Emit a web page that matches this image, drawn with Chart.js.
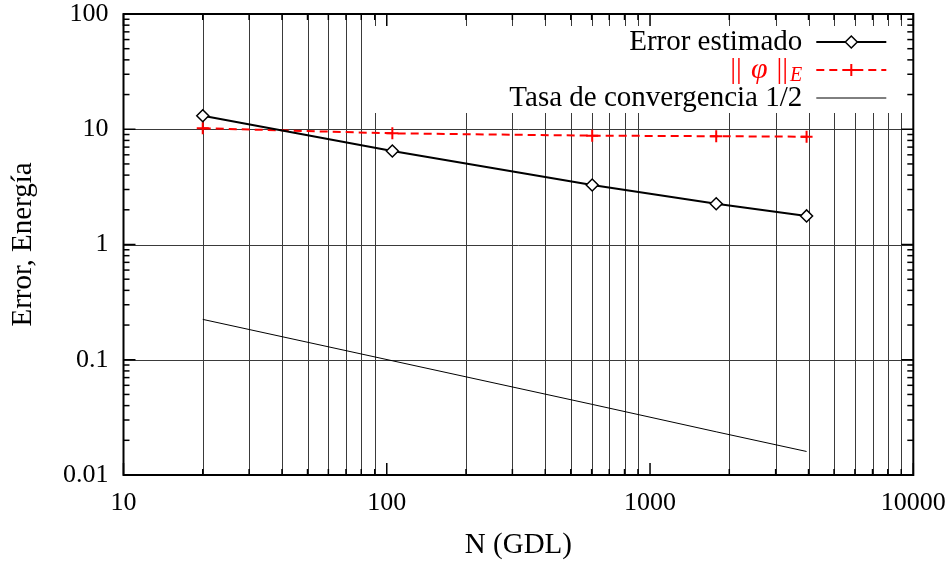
<!DOCTYPE html>
<html>
<head>
<meta charset="utf-8">
<script src="https://cdn.jsdelivr.net/npm/chart.js@4"></script>
<style>
  html, body { margin: 0; padding: 0; background: #fff; }
</style>
</head>
<body>
<canvas id="chart" width="948" height="563"></canvas>
<script>
// data
const nGdl = [20, 105, 603, 1784, 3932];
const errorEstimado = [13.1, 6.47, 3.28, 2.26, 1.77];
const normaEnergia = [10.2, 9.22, 8.8, 8.7, 8.62];
const tasaConvergencia = [0.224, 0.098, 0.041, 0.0237, 0.016];
const xTickLabels = ['10', '100', '1000', '10000'];
const yTickLabels = ['0.01', '0.1', '1', '10', '100'];
const seriesLabels = ['Error estimado', '|| φ ||', 'Tasa de convergencia 1/2'];
const energySub = 'E';

const SERIF = "'Liberation Serif', 'DejaVu Serif', serif";
const RED = '#ff0000';

const pts = ys => nGdl.map((n, i) => ({ x: n, y: ys[i] }));
const isPow10 = v => { const l = Math.log10(v); return Math.abs(l - Math.round(l)) < 1e-6; };
const isWhole = v => {
  const m = v / Math.pow(10, Math.floor(Math.log10(v) + 1e-9));
  return Math.abs(m - Math.round(m)) < 1e-6;
};
const labelFor = list => v => list.find(s => Math.abs(Number(s) / v - 1) < 1e-6) || '';

function seg(ctx, x1, y1, x2, y2) {
  ctx.beginPath(); ctx.moveTo(x1, y1); ctx.lineTo(x2, y2); ctx.stroke();
}

// keep the plot box where the layout padding puts it
function fixBox(s, size) {
  if (s.isHorizontal()) s.height = size; else s.width = size;
  s.paddingTop = s.paddingBottom = s.paddingLeft = s.paddingRight = 0;
}

// grid, inward ticks, frame and the gnuplot-style key
const frame = {
  id: 'frame',
  beforeDatasetsDraw(chart) {
    const { ctx, chartArea: a, scales: { x, y } } = chart;
    ctx.save();
    ctx.strokeStyle = '#3a3a3a';
    ctx.lineWidth = 1;
    x.ticks.forEach(t => {
      if (isPow10(t.value)) return;
      const px = Math.round(x.getPixelForValue(t.value)) + 0.5;
      seg(ctx, px, a.top, px, a.bottom);
    });
    y.ticks.forEach(t => {
      if (!isPow10(t.value)) return;
      const py = Math.round(y.getPixelForValue(t.value)) + 0.5;
      if (py < a.top + 2 || py > a.bottom - 2) return;
      seg(ctx, a.left, py, a.right, py);
    });
    // key background
    ctx.fillStyle = '#fff';
    ctx.fillRect(a.right - 548, a.top + 12, 540, 87);
    ctx.restore();
  },
  afterDatasetsDraw(chart) {
    const { ctx, chartArea: a, scales: { x, y } } = chart;
    ctx.save();
    ctx.strokeStyle = '#000';
    ctx.lineWidth = 1.5;
    x.ticks.forEach(t => {
      const px = x.getPixelForValue(t.value);
      const len = isPow10(t.value) ? 12 : 6;
      seg(ctx, px, a.bottom, px, a.bottom - len);
      seg(ctx, px, a.top, px, a.top + len);
    });
    y.ticks.forEach(t => {
      const py = y.getPixelForValue(t.value);
      const len = isPow10(t.value) ? 12 : 6;
      seg(ctx, a.left, py, a.left + len, py);
      seg(ctx, a.right, py, a.right - len, py);
    });
    ctx.lineWidth = 2;
    ctx.strokeRect(a.left, a.top, a.right - a.left, a.bottom - a.top);

    // key
    const textR = a.right - 111, s1 = a.right - 97, s2 = a.right - 27, sm = (s1 + s2) / 2;
    const rows = [a.top + 28, a.top + 56, a.top + 84];
    ctx.textBaseline = 'middle';
    ctx.font = '29px ' + SERIF;
    ctx.fillStyle = '#000';
    ctx.textAlign = 'right';
    ctx.fillText(seriesLabels[0], textR, rows[0]);
    ctx.fillText(seriesLabels[2], textR, rows[2]);

    // || φ ||_E  (text, font, baseline shift, gap after)
    ctx.textAlign = 'left';
    ctx.fillStyle = RED;
    const parts = seriesLabels[1].split(' ');
    const fUp = '29px ' + SERIF, fIt = 'italic 30px ' + SERIF, fSub = 'italic 20px ' + SERIF;
    const pieces = [
      [parts[0], fUp, 0, 9], [parts[1], fIt, 0, 9], [parts[2], fUp, 0, 2], [energySub, fSub, 6, 0]
    ];
    let total = 0;
    pieces.forEach(p => { ctx.font = p[1]; total += ctx.measureText(p[0]).width + p[3]; });
    let cx = textR - total;
    pieces.forEach(p => {
      ctx.font = p[1];
      ctx.fillText(p[0], cx, rows[1] + p[2]);
      cx += ctx.measureText(p[0]).width + p[3];
    });

    // samples
    ctx.strokeStyle = '#000';
    ctx.lineWidth = 2;
    seg(ctx, s1, rows[0], s2, rows[0]);
    ctx.fillStyle = '#fff';
    ctx.lineWidth = 1.5;
    Chart.helpers.drawPoint(ctx, { pointStyle: 'rectRot', radius: 6, rotation: 0, borderWidth: 1.5 }, sm, rows[0]);

    ctx.strokeStyle = RED;
    ctx.lineWidth = 2;
    ctx.setLineDash([8, 5]);
    seg(ctx, s1, rows[1], s2, rows[1]);
    ctx.setLineDash([]);
    Chart.helpers.drawPoint(ctx, { pointStyle: 'cross', radius: 6, rotation: 0, borderWidth: 2 }, sm, rows[1]);

    ctx.strokeStyle = '#000';
    ctx.lineWidth = 1;
    seg(ctx, s1, rows[2], s2, rows[2]);
    ctx.restore();
  }
};

const tickFont = { family: SERIF, size: 26, lineHeight: 1 };
const titleFont = { family: SERIF, size: 29, lineHeight: 1 };

new Chart(document.getElementById('chart').getContext('2d'), {
  type: 'line',
  data: {
    datasets: [
      {
        label: seriesLabels[0],
        data: pts(errorEstimado),
        borderColor: '#000',
        borderWidth: 2,
        pointStyle: 'rectRot',
        pointRadius: 6,
        pointBorderWidth: 1.5,
        pointBackgroundColor: '#fff',
        pointBorderColor: '#000'
      },
      {
        label: seriesLabels[1] + energySub,
        data: pts(normaEnergia),
        borderColor: RED,
        borderWidth: 2,
        borderDash: [8, 5],
        pointStyle: 'cross',
        pointRadius: 6,
        pointBorderWidth: 2,
        pointBorderColor: RED
      },
      {
        label: seriesLabels[2],
        data: pts(tasaConvergencia),
        borderColor: '#000',
        borderWidth: 1,
        pointRadius: 0
      }
    ]
  },
  options: {
    responsive: false,
    animation: false,
    devicePixelRatio: 1,
    layout: { padding: { top: 14, right: 34.7, bottom: 0, left: 0 } },
    plugins: { legend: { display: false }, tooltip: { enabled: false } },
    scales: {
      x: {
        type: 'logarithmic',
        min: 10, max: 10000,
        afterBuildTicks: s => { s.ticks = s.ticks.filter(t => isWhole(t.value)); },
        afterFit: s => fixBox(s, 88),
        grid: { display: false, drawTicks: false },
        border: { display: false },
        ticks: { autoSkip: false, maxRotation: 0, padding: 15, color: '#000', font: tickFont, callback: labelFor(xTickLabels) },
        title: { display: true, text: 'N (GDL)', color: '#000', font: titleFont, padding: { top: 0, bottom: 3.5 } }
      },
      y: {
        type: 'logarithmic',
        min: 0.01, max: 100,
        afterBuildTicks: s => { s.ticks = s.ticks.filter(t => isWhole(t.value)); },
        afterFit: s => fixBox(s, 123.5),
        grid: { display: false, drawTicks: false },
        border: { display: false },
        ticks: { autoSkip: false, padding: 15, color: '#000', font: tickFont, callback: labelFor(yTickLabels) },
        title: { display: true, text: 'Error, Energía', color: '#000', font: titleFont, padding: { top: 8.5, bottom: 0 } }
      }
    }
  },
  plugins: [frame]
});
</script>
</body>
</html>
